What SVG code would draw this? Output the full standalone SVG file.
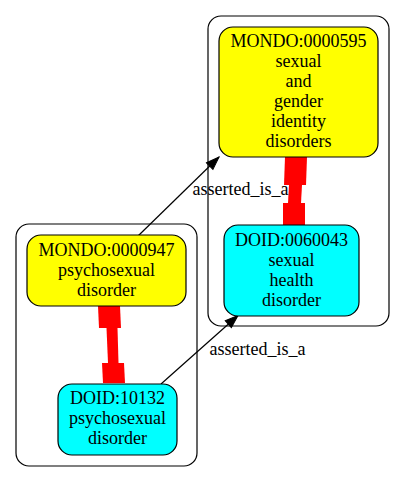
<svg xmlns="http://www.w3.org/2000/svg" width="405" height="481" viewBox="0 0 405 481">
<style>
text{font-family:"Liberation Serif","Times New Roman",serif;font-size:18px;fill:#000}
.c{text-anchor:middle}
.cl{fill:none;stroke:#000;stroke-width:1.2}
.nd{stroke:#000;stroke-width:1.2}
.mondo{fill:#ffff00}
.doid{fill:#00ffff}
.e{fill:none;stroke:#000;stroke-width:1.2}
.eq{fill:#ff0000;stroke:none}
</style>
<defs>
<marker id="ah" markerUnits="userSpaceOnUse" markerWidth="14" markerHeight="10" refX="13" refY="4.6" orient="auto" overflow="visible">
<path d="M0,0 L13,4.6 L0,9.2 Z" fill="#000" stroke="#000" stroke-width="1"/>
</marker>
</defs>
<rect width="405" height="481" fill="#fff"/>
<g id="clusters">
<rect id="cluster_right" class="cl" x="208" y="16" width="181" height="310" rx="13"/>
<rect id="cluster_left" class="cl" x="16" y="224" width="181" height="242" rx="13"/>
</g>
<g id="connectors">
<polygon class="eq" points="285,157 307,157 306,185 284,185"/>
<polygon class="eq" points="289,185 302,185 301,203 288,203"/>
<polygon class="eq" points="283,203 305,203 305,225 283,225"/>
<polygon class="eq" points="98,306 120,306 121,328 99,328"/>
<polygon class="eq" points="106.5,328 117.5,328 118.5,363 108,363"/>
<polygon class="eq" points="102,363 124,363 125,383 103,383"/>
<line class="e" x1="138" y1="236" x2="219" y2="157" marker-end="url(#ah)"/>
<text x="192.5" y="195">asserted_is_a</text>
<line class="e" x1="161" y1="384" x2="238" y2="315.5" marker-end="url(#ah)"/>
<text x="209.5" y="355">asserted_is_a</text>
</g>
<g id="MONDO_0000595">
<rect class="nd mondo" x="219" y="27" width="159" height="130" rx="14"/>
<text class="c" x="298.5" y="46.5">MONDO:0000595</text>
<text class="c" x="298.5" y="66.5">sexual</text>
<text class="c" x="298.5" y="86.5">and</text>
<text class="c" x="298.5" y="106.5">gender</text>
<text class="c" x="298.5" y="126.5">identity</text>
<text class="c" x="298.5" y="146.5">disorders</text>
</g>
<g id="DOID_0060043">
<rect class="nd doid" x="224" y="225" width="135" height="91" rx="14"/>
<text class="c" x="291.5" y="246">DOID:0060043</text>
<text class="c" x="291.5" y="266">sexual</text>
<text class="c" x="291.5" y="286">health</text>
<text class="c" x="291.5" y="306">disorder</text>
</g>
<g id="MONDO_0000947">
<rect class="nd mondo" x="27" y="235" width="159" height="71" rx="14"/>
<text class="c" x="106.5" y="256">MONDO:0000947</text>
<text class="c" x="106.5" y="276">psychosexual</text>
<text class="c" x="106.5" y="296">disorder</text>
</g>
<g id="DOID_10132">
<rect class="nd doid" x="58" y="384" width="119" height="71" rx="14"/>
<text class="c" x="117.5" y="404">DOID:10132</text>
<text class="c" x="117.5" y="424">psychosexual</text>
<text class="c" x="117.5" y="444">disorder</text>
</g>
</svg>
